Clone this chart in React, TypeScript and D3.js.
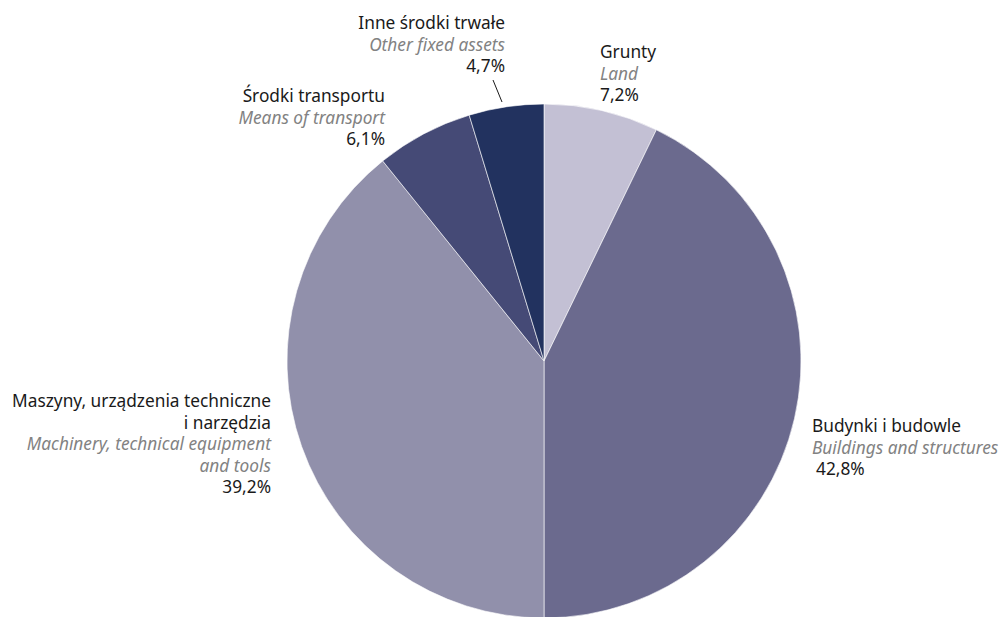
import React from "react";
import * as d3 from "d3";

const categoriesPl = ["Grunty", "Budynki i budowle", "Maszyny, urządzenia techniczne|i narzędzia", "Środki transportu", "Inne środki trwałe"];
const categoriesEn = ["Land", "Buildings and structures", "Machinery, technical equipment|and tools", "Means of transport", "Other fixed assets"];
const values = [7.2, 42.8, 39.2, 6.1, 4.7];
const colors = ["#c3c0d4", "#6b6a8e", "#9190ab", "#454a76", "#22325f"];

// label layout: anchor, x, first baseline
const labelPos: { anchor: "start" | "end"; x: number; y: number }[] = [
  { anchor: "start", x: 600, y: 58 },
  { anchor: "start", x: 812, y: 432 },
  { anchor: "end", x: 271, y: 407 },
  { anchor: "end", x: 385, y: 102 },
  { anchor: "end", x: 505, y: 29 },
];

const W = 1005, H = 617;
const cx = 544, cy = 361, R = 257;

export default function App() {
  const pie = d3.pie<number>().sort(null).value((d) => d)(values);
  const arc = d3.arc<d3.PieArcDatum<number>>().innerRadius(0).outerRadius(R);
  const fmt = (v: number) => v.toFixed(1).replace(".", ",") + "%";
  const lh = 21.5;
  return (
    <svg width={W} height={H} style={{ position: "absolute", left: 0, top: 0 }} fontFamily="'Noto Sans', sans-serif" fontSize={17.3}>
      <g transform={`translate(${cx},${cy})`}>
        {pie.map((p, i) => (
          <path key={i} d={arc(p) || ""} fill={colors[i]} stroke="#ffffff" strokeWidth={0.6} />
        ))}
      </g>
      {labelPos.map((lp, i) => {
        const pl = categoriesPl[i].split("|");
        const en = categoriesEn[i].split("|");
        const lines: { t: string; c: string; it: boolean }[] = [
          ...pl.map((t) => ({ t, c: "#1a1a1a", it: false })),
          ...en.map((t) => ({ t, c: "#828282", it: true })),
          { t: fmt(values[i]), c: "#1a1a1a", it: false },
        ];
        return (
          <text key={i} textAnchor={lp.anchor}>
            {lines.map((l, j) => (
              <tspan key={j} x={lp.x + (i === 1 && j === lines.length - 1 ? 4 : 0)} y={lp.y + j * lh} fill={l.c} fontStyle={l.it ? "italic" : "normal"}>
                {l.t}
              </tspan>
            ))}
          </text>
        );
      })}
      <line x1={493} y1={80} x2={502} y2={102} stroke="#1a1a1a" strokeWidth={1} />
    </svg>
  );
}
